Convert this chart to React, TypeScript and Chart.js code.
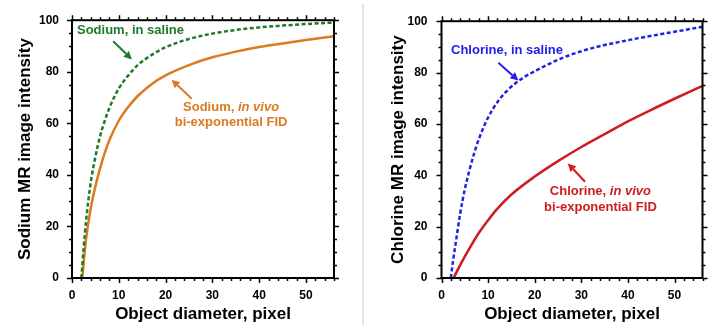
import React, { useEffect, useRef } from "react";
import { Chart, registerables } from "chart.js";

Chart.register(...registerables);

const FONT = "'Liberation Sans', Arial, Helvetica, sans-serif";

// ---- Data ----
const sodiumSalineX = [2, 2.5, 3, 4, 5, 6, 7, 8, 10, 12, 14, 17, 20, 25, 30, 35, 40, 45, 50, 56];
const sodiumSalineY = [0, 12, 22, 37, 47, 55, 61, 66, 73.5, 78.5, 82.5, 86.5, 89.5, 92.7, 94.8, 96.2, 97.2, 97.9, 98.5, 99.1];

const sodiumVivoX = [2.2, 2.6, 3, 4, 5, 6, 7, 8, 10, 12, 14, 17, 20, 25, 30, 35, 40, 45, 50, 56];
const sodiumVivoY = [0, 8, 15, 27, 35.5, 42.5, 48.5, 53.5, 61, 66.3, 70.5, 75.2, 78.6, 82.6, 85.6, 87.8, 89.6, 91, 92.3, 93.8];

const chlorineSalineX = [2, 2.5, 3, 4, 5, 6, 7, 8, 10, 12, 14, 16, 18, 20, 25, 30, 35, 40, 45, 50, 56];
const chlorineSalineY = [0, 7, 13, 25, 34.5, 42, 48.5, 54, 62.5, 68.5, 72.8, 76, 78.5, 80.5, 85, 88.3, 90.7, 92.6, 94.3, 95.9, 97.8];

const chlorineVivoX = [2.6, 4, 6, 8, 10, 12, 15, 20, 25, 30, 35, 40, 45, 50, 56];
const chlorineVivoY = [0, 5, 11.5, 17.5, 22.5, 27, 32.5, 39.5, 45.5, 51, 56, 61, 65.5, 69.8, 74.8];

const xTickLabels = [0, 10, 20, 30, 40, 50];
const yTickLabels = [0, 20, 40, 60, 80, 100];
const X_MAX = 56;
const Y_MAX = 100;

type Seg = { text: string; italic?: boolean };
type Label = { x: number; y: number; align: "left" | "center"; color: string; parts: Seg[] };
type Arrow = { x1: number; y1: number; x2: number; y2: number; color: string };

const sodiumLabels: Label[] = [
  { x: 1.07, y: 95.9, align: "left", color: "#1e7a2a", parts: [{ text: "Sodium, in saline" }] },
  { x: 34.0, y: 66.3, align: "center", color: "#dc7a1e", parts: [{ text: "Sodium, " }, { text: "in vivo", italic: true }] },
  { x: 34.0, y: 60.2, align: "center", color: "#dc7a1e", parts: [{ text: "bi-exponential FID" }] },
];
const sodiumArrows: Arrow[] = [
  { x1: 8.8, y1: 91.8, x2: 12.8, y2: 84.8, color: "#1e7a2a" },
  { x1: 25.6, y1: 69.5, x2: 21.3, y2: 76.9, color: "#dc7a1e" },
];
const chlorineLabels: Label[] = [
  { x: 2.04, y: 88.6, align: "left", color: "#2020e6", parts: [{ text: "Chlorine, in saline" }] },
  { x: 34.1, y: 33.7, align: "center", color: "#d01c1c", parts: [{ text: "Chlorine, " }, { text: "in vivo", italic: true }] },
  { x: 34.1, y: 27.3, align: "center", color: "#d01c1c", parts: [{ text: "bi-exponential FID" }] },
];
const chlorineArrows: Arrow[] = [
  { x1: 12.2, y1: 83.8, x2: 16.5, y2: 76.9, color: "#2020e6" },
  { x1: 30.8, y1: 37.5, x2: 27.1, y2: 44.6, color: "#d01c1c" },
];

function frameAndAnnotations(labels: Label[], arrows: Arrow[]) {
  return {
    id: "frameAndAnnotations",
    afterDatasetsDraw(chart: any) {
      const { ctx, chartArea: a, scales } = chart;
      const xs = scales.x;
      const ys = scales.y;
      ctx.save();
      // ticks (outward, all 4 sides)
      ctx.strokeStyle = "#000";
      ctx.lineWidth = 1.5;
      ctx.beginPath();
      for (let v = 0; v <= X_MAX; v += 2) {
        const px = Math.round(xs.getPixelForValue(v)) + 0.5;
        const len = v % 10 === 0 ? 5 : 3;
        ctx.moveTo(px, a.bottom);
        ctx.lineTo(px, a.bottom + len);
        ctx.moveTo(px, a.top);
        ctx.lineTo(px, a.top - len);
      }
      for (let v = 0; v <= Y_MAX; v += 5) {
        const py = Math.round(ys.getPixelForValue(v)) + 0.5;
        const len = v % 20 === 0 ? 5 : 3;
        ctx.moveTo(a.left, py);
        ctx.lineTo(a.left - len, py);
        ctx.moveTo(a.right, py);
        ctx.lineTo(a.right + len, py);
      }
      ctx.stroke();
      // frame
      ctx.lineWidth = 2;
      ctx.strokeRect(a.left, a.top, a.right - a.left, a.bottom - a.top);

      // arrows
      for (const ar of arrows) {
        const x1 = xs.getPixelForValue(ar.x1);
        const y1 = ys.getPixelForValue(ar.y1);
        const x2 = xs.getPixelForValue(ar.x2);
        const y2 = ys.getPixelForValue(ar.y2);
        const ang = Math.atan2(y2 - y1, x2 - x1);
        const hl = 8;
        const hw = 4;
        const bx = x2 - hl * Math.cos(ang);
        const by = y2 - hl * Math.sin(ang);
        ctx.strokeStyle = ar.color;
        ctx.fillStyle = ar.color;
        ctx.lineWidth = 2;
        ctx.beginPath();
        ctx.moveTo(x1, y1);
        ctx.lineTo(bx, by);
        ctx.stroke();
        ctx.beginPath();
        ctx.moveTo(x2, y2);
        ctx.lineTo(bx + hw * Math.sin(ang), by - hw * Math.cos(ang));
        ctx.lineTo(bx - hw * Math.sin(ang), by + hw * Math.cos(ang));
        ctx.closePath();
        ctx.fill();
      }

      // labels
      ctx.textBaseline = "middle";
      ctx.textAlign = "left";
      for (const lb of labels) {
        const fonts = lb.parts.map((p) => `${p.italic ? "italic " : ""}bold 13px ${FONT}`);
        let total = 0;
        const widths = lb.parts.map((p, i) => {
          ctx.font = fonts[i];
          const w = ctx.measureText(p.text).width;
          total += w;
          return w;
        });
        let x = xs.getPixelForValue(lb.x);
        const y = ys.getPixelForValue(lb.y);
        if (lb.align === "center") x -= total / 2;
        ctx.fillStyle = lb.color;
        lb.parts.forEach((p, i) => {
          ctx.font = fonts[i];
          ctx.fillText(p.text, x, y);
          x += widths[i];
        });
      }
      ctx.restore();
    },
  };
}

type PanelProps = {
  left: number;
  width: number;
  yTitle: string;
  axisWidth: number;
  padRight: number;
  yTitlePad: number;
  yTickPad: number;
  series: { x: number[]; y: number[]; color: string; dash: number[] }[];
  labels: Label[];
  arrows: Arrow[];
};

function Panel(props: PanelProps) {
  const ref = useRef<HTMLCanvasElement | null>(null);
  useEffect(() => {
    if (!ref.current) return;
    const tickFont = { family: FONT, size: 12, weight: "bold" as const };
    const titleFont = { family: FONT, size: 17, weight: "bold" as const };
    const chart = new Chart(ref.current, {
      type: "line",
      data: {
        datasets: props.series.map((s) => ({
          data: s.x.map((x, i) => ({ x, y: s.y[i] })),
          borderColor: s.color,
          borderWidth: 2.5,
          borderDash: s.dash,
          pointRadius: 0,
          fill: false,
          cubicInterpolationMode: "monotone" as const,
        })),
      },
      options: {
        responsive: false,
        animation: false,
        layout: { padding: { left: 0, right: props.padRight, top: 17, bottom: 0 } },
        plugins: { legend: { display: false }, tooltip: { enabled: false } },
        scales: {
          x: {
            type: "linear",
            min: 0,
            max: X_MAX,
            grid: { display: false, drawTicks: false },
            border: { display: false },
            afterBuildTicks: (s: any) => {
              s.ticks = xTickLabels.map((v) => ({ value: v }));
            },
            ticks: { maxRotation: 0, autoSkip: false, padding: 10, color: "#000", font: tickFont },
            title: {
              display: true,
              text: "Object diameter, pixel",
              color: "#000",
              font: titleFont,
              padding: { top: 0, bottom: 0 },
            },
            afterFit: (s: any) => {
              s.height = 47;
            },
          },
          y: {
            type: "linear",
            min: 0,
            max: Y_MAX,
            grid: { display: false, drawTicks: false },
            border: { display: false },
            afterBuildTicks: (s: any) => {
              s.ticks = yTickLabels.map((v) => ({ value: v }));
            },
            ticks: { padding: props.yTickPad, color: "#000", font: tickFont },
            title: {
              display: true,
              text: props.yTitle,
              color: "#000",
              font: titleFont,
              padding: { top: props.yTitlePad, bottom: 0 },
            },
            afterFit: (s: any) => {
              s.width = props.axisWidth;
            },
          },
        },
      },
      plugins: [frameAndAnnotations(props.labels, props.arrows)],
    });
    return () => chart.destroy();
  }, []);
  return (
    <canvas
      ref={ref}
      width={props.width}
      height={325}
      style={{ position: "absolute", left: props.left, top: 0, width: props.width, height: 325 }}
    />
  );
}

export default function App() {
  return (
    <div style={{ position: "fixed", left: 0, top: 0, width: 711, height: 325, background: "#fff", overflow: "hidden" }}>
      <Panel
        left={0}
        width={360}
        yTitle="Sodium MR image intensity"
        axisWidth={72}
        padRight={26}
        yTitlePad={15}
        yTickPad={13}
        series={[
          { x: sodiumSalineX, y: sodiumSalineY, color: "#1e7a2a", dash: [4, 2.5] },
          { x: sodiumVivoX, y: sodiumVivoY, color: "#dc7a1e", dash: [] },
        ]}
        labels={sodiumLabels}
        arrows={sodiumArrows}
      />
      <div style={{ position: "absolute", left: 362, top: 4, width: 2, height: 321, background: "#e2e2e2" }} />
      <Panel
        left={365}
        width={346}
        yTitle="Chlorine MR image intensity"
        axisWidth={76.5}
        padRight={8.5}
        yTitlePad={22.8}
        yTickPad={14}
        series={[
          { x: chlorineSalineX, y: chlorineSalineY, color: "#2020e6", dash: [4, 2.5] },
          { x: chlorineVivoX, y: chlorineVivoY, color: "#d01c1c", dash: [] },
        ]}
        labels={chlorineLabels}
        arrows={chlorineArrows}
      />
    </div>
  );
}
